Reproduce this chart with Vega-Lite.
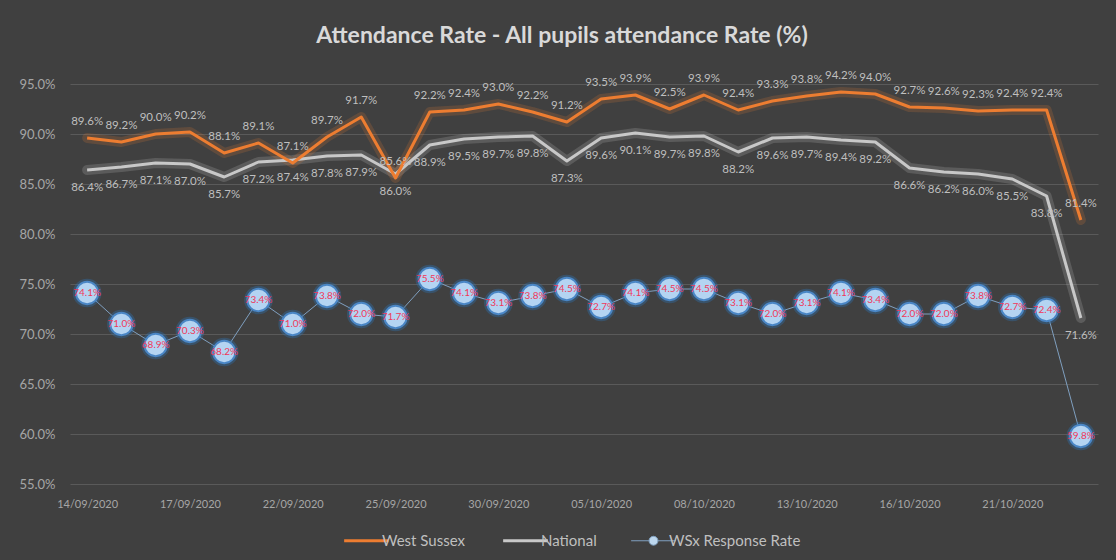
{
  "$schema": "https://vega.github.io/schema/vega-lite/v6.json",
  "width": 1028,
  "height": 400,
  "autosize": {"type": "none"},
  "padding": {"left": 70, "top": 84, "right": 18, "bottom": 76},
  "background": "#404040",
  "title": {
    "text": "Attendance Rate - All pupils attendance Rate (%)",
    "font": "Lato",
    "fontSize": 23,
    "fontWeight": "bold",
    "color": "#d9d9d9",
    "anchor": "middle",
    "frame": "group",
    "dx": -22,
    "offset": 22
  },
  "config": {
    "view": {"stroke": null},
    "font": "Lato"
  },
  "data": {
    "values": [
      {"date": "14/09/2020", "WSx Response Rate": 0.741, "National": 0.864, "West Sussex": 0.896},
      {"date": "15/09/2020", "WSx Response Rate": 0.710, "National": 0.867, "West Sussex": 0.892},
      {"date": "16/09/2020", "WSx Response Rate": 0.689, "National": 0.871, "West Sussex": 0.900},
      {"date": "17/09/2020", "WSx Response Rate": 0.703, "National": 0.870, "West Sussex": 0.902},
      {"date": "18/09/2020", "WSx Response Rate": 0.682, "National": 0.857, "West Sussex": 0.881},
      {"date": "21/09/2020", "WSx Response Rate": 0.734, "National": 0.872, "West Sussex": 0.891},
      {"date": "22/09/2020", "WSx Response Rate": 0.710, "National": 0.874, "West Sussex": 0.871},
      {"date": "23/09/2020", "WSx Response Rate": 0.738, "National": 0.878, "West Sussex": 0.897},
      {"date": "24/09/2020", "WSx Response Rate": 0.720, "National": 0.879, "West Sussex": 0.917},
      {"date": "25/09/2020", "WSx Response Rate": 0.717, "National": 0.860, "West Sussex": 0.856},
      {"date": "28/09/2020", "WSx Response Rate": 0.755, "National": 0.889, "West Sussex": 0.922},
      {"date": "29/09/2020", "WSx Response Rate": 0.741, "National": 0.895, "West Sussex": 0.924},
      {"date": "30/09/2020", "WSx Response Rate": 0.731, "National": 0.897, "West Sussex": 0.930},
      {"date": "01/10/2020", "WSx Response Rate": 0.738, "National": 0.898, "West Sussex": 0.922},
      {"date": "02/10/2020", "WSx Response Rate": 0.745, "National": 0.873, "West Sussex": 0.912},
      {"date": "05/10/2020", "WSx Response Rate": 0.727, "National": 0.896, "West Sussex": 0.935},
      {"date": "06/10/2020", "WSx Response Rate": 0.741, "National": 0.901, "West Sussex": 0.939},
      {"date": "07/10/2020", "WSx Response Rate": 0.745, "National": 0.897, "West Sussex": 0.925},
      {"date": "08/10/2020", "WSx Response Rate": 0.745, "National": 0.898, "West Sussex": 0.939},
      {"date": "09/10/2020", "WSx Response Rate": 0.731, "National": 0.882, "West Sussex": 0.924},
      {"date": "12/10/2020", "WSx Response Rate": 0.720, "National": 0.896, "West Sussex": 0.933},
      {"date": "13/10/2020", "WSx Response Rate": 0.731, "National": 0.897, "West Sussex": 0.938},
      {"date": "14/10/2020", "WSx Response Rate": 0.741, "National": 0.894, "West Sussex": 0.942},
      {"date": "15/10/2020", "WSx Response Rate": 0.734, "National": 0.892, "West Sussex": 0.940},
      {"date": "16/10/2020", "WSx Response Rate": 0.720, "National": 0.866, "West Sussex": 0.927},
      {"date": "19/10/2020", "WSx Response Rate": 0.720, "National": 0.862, "West Sussex": 0.926},
      {"date": "20/10/2020", "WSx Response Rate": 0.738, "National": 0.860, "West Sussex": 0.923},
      {"date": "21/10/2020", "WSx Response Rate": 0.727, "National": 0.855, "West Sussex": 0.924},
      {"date": "22/10/2020", "WSx Response Rate": 0.724, "National": 0.838, "West Sussex": 0.924},
      {"date": "23/10/2020", "WSx Response Rate": 0.598, "National": 0.716, "West Sussex": 0.814}
    ]
  },
  "transform": [
    {"fold": ["WSx Response Rate", "National", "West Sussex"], "as": ["series", "value"]}
  ],
  "encoding": {
    "x": {
      "field": "date",
      "type": "nominal",
      "sort": null,
      "scale": {"type": "point", "padding": 0.5},
      "axis": {
        "title": null,
        "values": ["14/09/2020", "17/09/2020", "22/09/2020", "25/09/2020", "30/09/2020", "05/10/2020", "08/10/2020", "13/10/2020", "16/10/2020", "21/10/2020"],
        "labelAngle": 0,
        "labelFontSize": 11,
        "labelColor": "#a6a6a6",
        "labelPadding": 14,
        "domain": false,
        "ticks": false,
        "grid": false
      }
    },
    "y": {
      "field": "value",
      "type": "quantitative",
      "scale": {"domain": [0.55, 0.95], "zero": false, "nice": false},
      "axis": {
        "title": null,
        "values": [0.55, 0.6, 0.65, 0.7, 0.75, 0.8, 0.85, 0.9, 0.95],
        "format": ".1%",
        "labelFontSize": 13,
        "labelColor": "#a6a6a6",
        "labelPadding": 15,
        "domain": false,
        "ticks": false,
        "grid": true,
        "gridColor": "#5a5a5a",
        "gridWidth": 1
      }
    }
  },
  "layer": [
    {
      "transform": [{"filter": "datum.series !== 'WSx Response Rate'"}],
      "mark": {"type": "line", "strokeWidth": 10, "opacity": 0.18, "strokeCap": "round", "strokeJoin": "round"},
      "encoding": {
        "detail": {"field": "series"},
        "stroke": {"condition": {"test": "datum.series === 'West Sussex'", "value": "#ed7d31"}, "value": "#d9d9d9"}
      }
    },
    {
      "mark": {"type": "line", "strokeJoin": "round"},
      "encoding": {
        "color": {
          "field": "series",
          "type": "nominal",
          "scale": {"domain": ["West Sussex", "National", "WSx Response Rate"], "range": ["#ed7d31", "#c8c8c8", "#7f9fbf"]},
          "legend": {
            "title": null,
            "orient": "none",
            "direction": "horizontal",
            "legendX": 289,
            "legendY": 449,
            "symbolType": "stroke",
            "symbolSize": 2000,
            "symbolStrokeWidth": 3,
            "labelFontSize": 15,
            "labelColor": "#bfbfbf",
            "labelOffset": 8,
            "columnPadding": 32,
            "encode": {
              "symbols": {
                "update": {
                  "shape": {"signal": "datum.value === 'WSx Response Rate' ? 'M-1,0H-0.2M0.2,0H1M0.2,0A0.2,0.2 0 1 1 -0.2,0A0.2,0.2 0 1 1 0.2,0' : 'stroke'"},
                  "fill": {"signal": "datum.value === 'WSx Response Rate' ? '#bdd7ee' : 'transparent'"},
                  "strokeWidth": {"signal": "datum.value === 'WSx Response Rate' ? 1 : 3"}
                }
              }
            }
          }
        },
        "strokeWidth": {"condition": {"test": "datum.series === 'WSx Response Rate'", "value": 1}, "value": 3}
      }
    },
    {
      "transform": [{"filter": "datum.series === 'WSx Response Rate'"}],
      "mark": {"type": "point", "filled": true, "size": 820, "color": "#2e75b6", "opacity": 0.35}
    },
    {
      "transform": [{"filter": "datum.series === 'WSx Response Rate'"}],
      "mark": {"type": "point", "filled": true, "size": 500, "fill": "#b4d4f2", "stroke": "#4a86c5", "strokeWidth": 2, "opacity": 1}
    },
    {
      "transform": [{"filter": "datum.series === 'WSx Response Rate'"}],
      "mark": {"type": "text", "fontSize": 10, "color": "#f0385a", "align": "center", "baseline": "middle"},
      "encoding": {"text": {"field": "value", "type": "quantitative", "format": ".1%"}}
    },
    {
      "transform": [{"filter": "datum.series === 'National'"}],
      "mark": {"type": "text", "fontSize": 11.5, "color": "#bfbfbf", "align": "center", "baseline": "middle", "dy": 18},
      "encoding": {"text": {"field": "value", "type": "quantitative", "format": ".1%"}}
    },
    {
      "transform": [{"filter": "datum.series === 'West Sussex'"}],
      "mark": {"type": "text", "fontSize": 11.5, "color": "#bfbfbf", "align": "center", "baseline": "middle", "dy": -16},
      "encoding": {"text": {"field": "value", "type": "quantitative", "format": ".1%"}}
    }
  ]
}
